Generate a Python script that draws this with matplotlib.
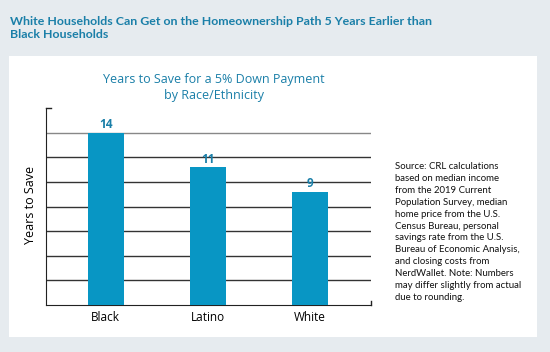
import matplotlib.pyplot as plt
import matplotlib.patches as patches
import numpy as np

# %% data
groups = ['Black', 'Latino', 'White']
years = [14, 11.2, 9.2]
labels = ['14', '11', '9']
yticks = [0, 2, 4, 6, 8, 10, 12, 14, 16]

header = 'White Households Can Get on the Homeownership Path 5 Years Earlier than\nBlack Households'
chart_title = 'Years to Save for a 5% Down Payment\nby Race/Ethnicity'
source = ('Source: CRL calculations\nbased on median income\nfrom the 2019 Current\n'
          'Population Survey, median\nhome price from the U.S.\nCensus Bureau, personal\n'
          'savings rate from the U.S.\nBureau of Economic Analysis,\nand closing costs from\n'
          'NerdWallet. Note: Numbers\nmay differ slightly from actual\ndue to rounding.')

bar_col = '#0896c4'
teal = '#1a7fa8'
bg = '#e6ebef'

plt.rcParams['font.family'] = ['Open Sans', 'DejaVu Sans']

fig = plt.figure(figsize=(5.5, 3.52), dpi=100)
fig.patch.set_facecolor(bg)

# white panel
fig.patches.append(patches.Rectangle((9/550, 1-337/352), 528/550, 281/352,
                                     transform=fig.transFigure, facecolor='white',
                                     edgecolor='none', zorder=-5))

fig.text(10/550, 1-28/352, header, fontsize=8.9, fontweight='bold', color=teal,
         va='center', ha='left', linespacing=1.3, family=['Lato', 'DejaVu Sans'])

ax = fig.add_axes([46/550, 1-305/352, 325/550, 197/352])
ax.set_facecolor('none')
x = np.arange(len(groups))
ax.bar(x, years, width=0.35, color=bar_col, zorder=3)
for xi, v, lab in zip(x, years, labels):
    ax.text(xi, v + 0.12, lab, ha='center', va='bottom', fontsize=8.5,
            fontweight='bold', color=teal)

for t in yticks[1:-1]:
    ax.axhline(t, color='#888888' if t == 14 else '#333333', lw=1.0, zorder=1)
ax.plot([-0.584, -0.535], [16, 16], color='#222222', lw=1.0, clip_on=False)
ax.plot([2.597, 2.597], [0, 0.3], color='#222222', lw=1.0, clip_on=False)

ax.set_xlim(-0.584, 2.597)
ax.set_ylim(0, 16)
ax.set_xticks(x)
ax.set_xticklabels(groups, fontsize=8.5)
ax.set_yticks([])
ax.tick_params(axis='x', length=0, pad=4)
for s in ['top', 'right']:
    ax.spines[s].set_visible(False)
ax.spines['left'].set_color('#222222')
ax.spines['bottom'].set_color('#222222')
ax.set_ylabel('Years to Save', fontsize=9)
ax.yaxis.set_label_coords(-0.028, 0.51)

fig.text(214/550, 1-88/352, chart_title, fontsize=9, color=teal, ha='center',
         va='center', linespacing=1.3)

fig.text(395/550, 1-232/352, source, fontsize=6.9, color='#111111', ha='left',
         va='center', linespacing=1.42, family=['Lato', 'DejaVu Sans'])

fig.savefig('out.png', dpi=100, facecolor=fig.get_facecolor())
